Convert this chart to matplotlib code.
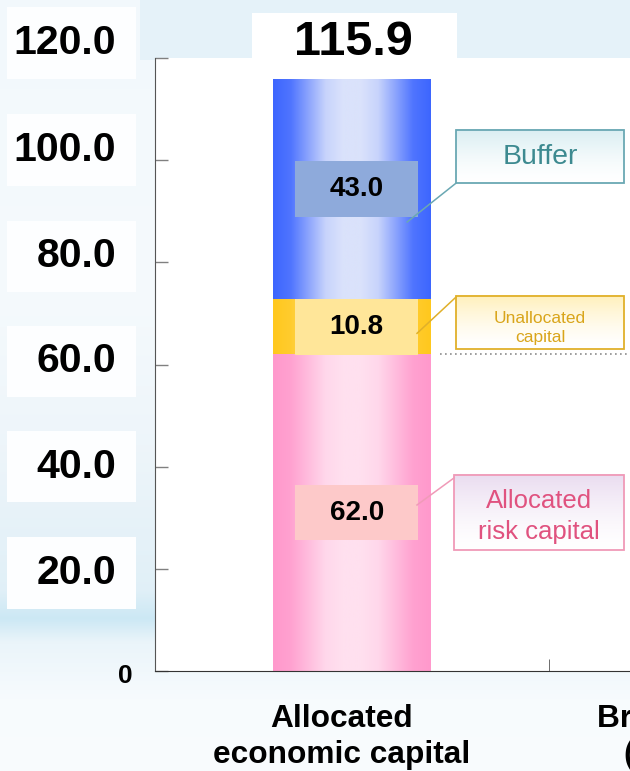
import numpy as np
import matplotlib
matplotlib.use("Agg")
import matplotlib.pyplot as plt
from matplotlib.colors import LinearSegmentedColormap
from matplotlib.patches import Rectangle
from matplotlib import transforms

# chart data
categories = ["Allocated\neconomic capital", "Breakdown of capital\n(by risk category)"]
segment_names = ["Allocated\nrisk capital", "Unallocated\ncapital", "Buffer"]
segment_values = [62.0, 10.8, 43.0]
total_value = 115.9
y_ticks = [20, 40, 60, 80, 100, 120]
y_tick_labels = ["20.0", "40.0", "60.0", "80.0", "100.0", "120.0"]

SANS = ["Liberation Sans", "DejaVu Sans"]

# segment styles: edge colour, centre colour, value box colour
seg_edge = ["#ff99cc", "#ffc81e", "#3d66ff"]
seg_mid = ["#ffe0ef", "#ffe9a6", "#dae2fb"]
box_fc = ["#fdc9c9", "#ffe699", "#8eaadb"]
# callout styles: edge, text, top fill, font size, line spacing, box (x0, x1, y0, y1), leader line
call_edge = ["#f09ab8", "#e0b02a", "#6aa8b3"]
call_text = ["#e0527f", "#d9a51a", "#3d8a90"]
call_top = ["#eadcf0", "#fff0bb", "#d9eef2"]
call_size = [18.5, 12.5, 20.5]
call_spacing = [1.35, 1.3, 1.2]
call_shift = [-0.8, -1.0, 0.0]
call_box = [(0.259, 0.690, 23.7, 38.4), (0.264, 0.690, 63.0, 73.4), (0.264, 0.690, 95.5, 105.9)]
call_line = [((0.259, 37.8), (0.165, 32.5)), ((0.264, 73.2), (0.165, 66.1)), ((0.264, 95.5), (0.14, 87.9))]

W, H = 630, 771
fig = plt.figure(figsize=(W / 100, H / 100), dpi=100)

# pale sky backdrop, bluer towards the horizon line
bg_ax = fig.add_axes([0, 0, 1, 1], zorder=-10)
rows = np.arange(H)
keys = [0, 300, 450, 590, 618, 642, 700, 771]
cols = np.array([[0.95, 0.975, 0.99], [0.96, 0.98, 0.99], [0.93, 0.96, 0.98], [0.88, 0.94, 0.97],
                 [0.80, 0.91, 0.96], [0.92, 0.96, 0.98], [0.97, 0.985, 0.995], [0.975, 0.988, 0.995]])
bg = np.stack([np.interp(rows, keys, cols[:, c]) for c in range(3)], axis=-1)
bg = np.repeat(bg[:, None, :], W, axis=1)
bg[:60, 140:] = [0.90, 0.95, 0.98]
bg_ax.imshow(bg, aspect="auto", extent=(0, 1, 0, 1))
bg_ax.axis("off")

ax = fig.add_axes([155 / W, 100 / H, 788 / W, 613 / H])
ax.set_facecolor("white")

# stacked bar with horizontal gradient fill
bottom = 0.0
grad = np.array([0, 0.12, 0.5, 0.88, 1, 1, 0.88, 0.5, 0.12, 0])
xs = np.linspace(0, 1, len(grad))
for i, val in enumerate(segment_values):
    bar = ax.bar(0, val, width=0.40, bottom=bottom, color="none", edgecolor="none")[0]
    cmap = LinearSegmentedColormap.from_list("seg%d" % i, [seg_edge[i], seg_mid[i]])
    prof = np.interp(np.linspace(0, 1, 200), xs, grad)[None, :]
    x0, y0 = bar.get_x(), bar.get_y()
    im = ax.imshow(prof, cmap=cmap, vmin=0, vmax=1, aspect="auto",
                   extent=(x0, x0 + bar.get_width(), y0, y0 + bar.get_height()), zorder=2)
    im.set_clip_path(bar)

    mid = bottom + val / 2
    ax.add_patch(Rectangle((0.012 - 0.156, mid - 5.45), 0.312, 10.9, facecolor=box_fc[i],
                           edgecolor="none", zorder=3))
    ax.text(0.012, mid, "%.1f" % val, ha="center", va="center", fontsize=20,
            fontweight="bold", family=SANS, zorder=4)

    # callout box with gradient fill
    bx0, bx1, by0, by1 = call_box[i]
    cm2 = LinearSegmentedColormap.from_list("call%d" % i, ["white", call_top[i]])
    ax.imshow(np.linspace(0, 1, 50)[:, None] ** 1.5, cmap=cm2, aspect="auto", origin="lower",
              extent=(bx0, bx1, by0, by1), zorder=2)
    ax.add_patch(Rectangle((bx0, by0), bx1 - bx0, by1 - by0, facecolor="none",
                           edgecolor=call_edge[i], lw=1.3, zorder=3))
    ax.text((bx0 + bx1) / 2, (by0 + by1) / 2 + call_shift[i], segment_names[i], ha="center",
            va="center", fontsize=call_size[i], color=call_text[i], family=SANS,
            linespacing=call_spacing[i], zorder=4)
    (lx0, ly0), (lx1, ly1) = call_line[i]
    ax.plot([lx0, lx1], [ly0, ly1], color=call_edge[i], lw=1.1, zorder=5)

    bottom += val

# dotted guide at the risk capital level
ax.plot([0.223, 0.8], [segment_values[0]] * 2, ls=(0, (1, 2)), color="#8c8c8c", lw=1.2, zorder=1)

# total above the bar on a white tile
ax.add_patch(Rectangle((-0.254, 117.7), 0.52, 11.1, facecolor="white", edgecolor="none",
                       clip_on=False, zorder=5))
ax.annotate("%.1f" % total_value, (0, total_value), xytext=(1, 36), textcoords="offset pixels",
            ha="center", va="center", fontsize=35, fontweight="bold", family=SANS,
            annotation_clip=False, zorder=6)

ax.set_xlim(-0.5, 1.5)
ax.set_ylim(0, 120)

for s in ["top", "right"]:
    ax.spines[s].set_visible(False)
ax.spines["left"].set_color("#555555")
ax.spines["bottom"].set_color("#333333")

ax.set_yticks([0] + y_ticks)
ax.set_yticklabels([])
ax.tick_params(axis="y", direction="in", length=9, color="#808080", width=1)
ax.set_xticks([0, 1])
ax.set_xticklabels(categories, fontsize=22.8, fontweight="bold", family=SANS, linespacing=1.25)
ax.tick_params(axis="x", which="major", length=0, pad=24)
ax.set_xticks([0.5], minor=True)
ax.tick_params(axis="x", which="minor", direction="in", length=9, color="#555555")
for lbl, dx in zip(ax.get_xticklabels(), [-10, 10]):
    lbl.set_transform(lbl.get_transform() + transforms.ScaledTranslation(dx / 100, 0, fig.dpi_scale_trans))

# y labels drawn on white tiles left of the axis
lab_shift = [-4, 0, 3, 6, 10, 15]
for v, lab, dy in zip(y_ticks, y_tick_labels, lab_shift):
    tr = transforms.offset_copy(transforms.blended_transform_factory(fig.transFigure, ax.transData),
                                fig=fig, x=0, y=dy, units="dots")
    fig.patches.append(Rectangle((7 / W, v - 7.0), 129 / W, 14.0, transform=tr,
                                 facecolor="#fdfeff", edgecolor="none", zorder=0))
    fig.text(116 / W, v, lab, transform=tr, ha="right", va="center", fontsize=29.5,
             fontweight="bold", family=SANS)
tr0 = transforms.offset_copy(transforms.blended_transform_factory(fig.transFigure, ax.transData),
                             fig=fig, x=0, y=-5, units="dots")
fig.text(125 / W, 0, "0", transform=tr0, ha="center", va="center", fontsize=19,
         fontweight="bold", family=SANS)

fig.savefig("out.png", dpi=100)
